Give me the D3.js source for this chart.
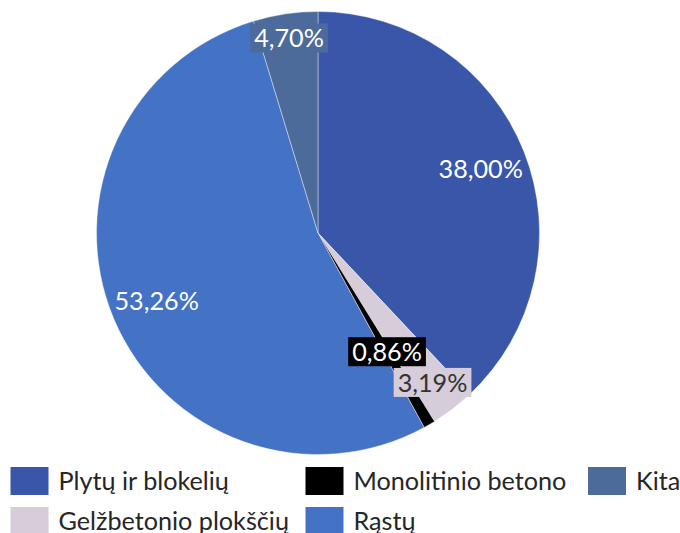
<!DOCTYPE html>
<html>
<head>
<meta charset="utf-8">
<script src="https://cdn.jsdelivr.net/npm/d3@7"></script>
<style>
  html, body { margin: 0; padding: 0; background: #fff; }
  svg { display: block; font-family: Lato, "Liberation Sans", sans-serif; }
</style>
</head>
<body>
<div class="chart-area"></div>
<script>
// series, in drawing order (clockwise from 12 o'clock)
const categories = ["Plytų ir blokelių", "Gelžbetonio plokščių", "Monolitinio betono", "Rąstų", "Kita"];
const values = [38.00, 3.19, 0.86, 53.26, 4.70];
const colors = ["#3A56A8", "#D6CCDA", "#000000", "#4472C4", "#4C6B9A"];

// label placement (fraction of radius) and look
const labelRadius = [0.79, 0.85, 0.62, 0.79, 0.89];
const labelBoxed = [false, true, true, false, true];
const labelInk = ["#fff", "#333", "#fff", "#fff", "#fff"];

const width = 680,
  height = 533,
  cx = 318,
  cy = 233,
  radius = 221.5,
  fontSize = 25.2;

const fmt = (v) => d3.format(".2f")(v).replace(".", ",") + "%";

const svg = d3
  .select(".chart-area")
  .append("svg")
  .attr("width", width)
  .attr("height", height);

const pie = d3.pie().sort(null).value((d) => d.value);
const arc = d3.arc().innerRadius(0).outerRadius(radius);

const data = categories.map((c, i) => ({ name: c, value: values[i], i }));
const arcs = pie(data);

const g = svg.append("g").attr("transform", `translate(${cx},${cy})`);

g.selectAll("path")
  .data(arcs)
  .enter()
  .append("path")
  .attr("d", arc)
  .attr("fill", (d) => colors[d.data.i])
  .attr("stroke", "#fff")
  .attr("stroke-width", 0.4);

// data labels
const lab = g
  .selectAll("g.lab")
  .data(arcs)
  .enter()
  .append("g")
  .attr("class", "lab")
  .attr("transform", (d) => {
    const r = radius * labelRadius[d.data.i];
    const [x, y] = d3.arc().innerRadius(r).outerRadius(r).centroid(d);
    return `translate(${x},${y})`;
  });

lab.append("text")
  .attr("text-anchor", "middle")
  .attr("dy", "0.36em")
  .attr("font-size", fontSize)
  .attr("fill", (d) => labelInk[d.data.i])
  .text((d) => fmt(d.data.value));

lab.each(function (d) {
  if (!labelBoxed[d.data.i]) return;
  const t = d3.select(this).select("text");
  const bb = t.node().getBBox();
  d3.select(this)
    .insert("rect", "text")
    .attr("x", bb.x - 4)
    .attr("y", -14.5)
    .attr("width", bb.width + 8)
    .attr("height", 29)
    .attr("fill", colors[d.data.i]);
});

// legend: column-major, two rows
const legCols = [10.5, 305.5, 588];
const legRows = [467, 507];
const legend = svg
  .append("g")
  .selectAll("g")
  .data(data)
  .enter()
  .append("g")
  .attr("transform", (d, i) => `translate(${legCols[Math.floor(i / 2)]},${legRows[i % 2]})`);

legend.append("rect")
  .attr("width", 38)
  .attr("height", 28)
  .attr("fill", (d) => colors[d.i]);

legend.append("text")
  .attr("x", 48)
  .attr("y", 14)
  .attr("dy", "0.36em")
  .attr("font-size", fontSize)
  .attr("fill", "#262626")
  .text((d) => d.name);
</script>
</body>
</html>
